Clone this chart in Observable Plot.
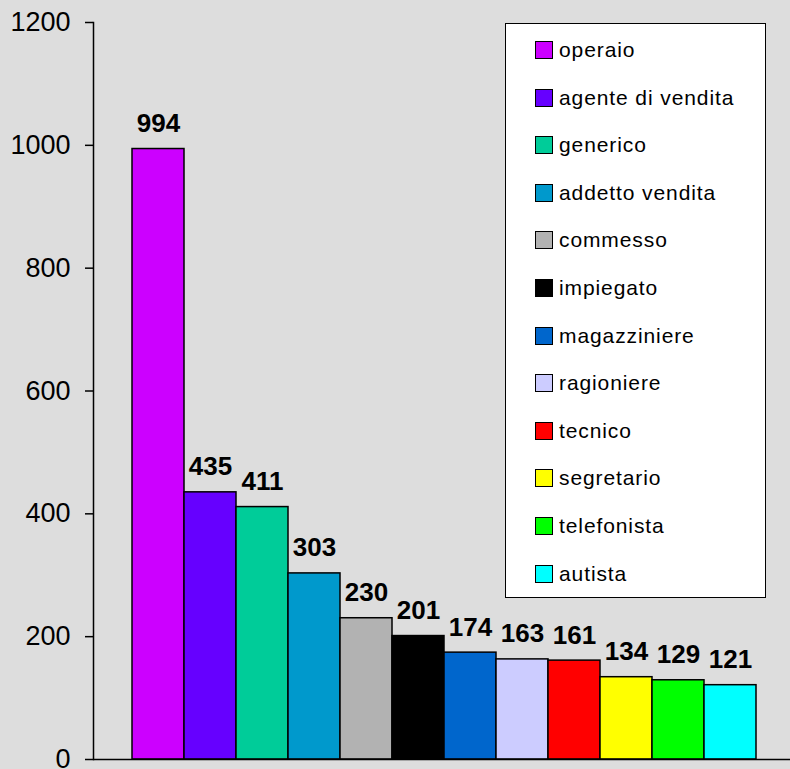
<!DOCTYPE html>
<html><head><meta charset="utf-8">
<script src="https://cdn.jsdelivr.net/npm/d3@7"></script>
<script src="https://cdn.jsdelivr.net/npm/@observablehq/plot@0.6"></script>
<style>
body{margin:0;background:#dddddd;}
#wrap{position:relative;width:790px;height:769px;background:#dddddd;overflow:hidden;}
#legend{position:absolute;left:505px;top:23px;width:261px;height:575px;background:#fff;border:1.5px solid #000;box-sizing:border-box;}
.item{position:absolute;left:29px;height:24px;display:flex;align-items:center;font:21px "Liberation Sans",Arial,sans-serif;letter-spacing:0.9px;color:#000;white-space:nowrap;}
.sw{width:18px;height:18px;border:1.5px solid #000;box-sizing:border-box;margin-right:6px;}
</style></head>
<body><div id="wrap"></div>
<script>
const categories = ["operaio","agente di vendita","generico","addetto vendita","commesso","impiegato","magazziniere","ragioniere","tecnico","segretario","telefonista","autista"];
const values = [994,435,411,303,230,201,174,163,161,134,129,121];
const colors = ["#cc00ff","#6600ff","#00cc99","#0099cc","#b2b2b2","#000000","#0066cc","#ccccff","#ff0000","#ffff00","#00ff00","#00ffff"];
const yTicks = [0,200,400,600,800,1000,1200];

const data = categories.map((c,i)=>({job:c, n:values[i], color:colors[i]}));
const font = "'Liberation Sans', Arial, sans-serif";

const chart = Plot.plot({
  width:790, height:769, marginTop:22, marginBottom:10, marginLeft:93, marginRight:0,
  style:{background:"#dddddd", fontFamily:font, overflow:"visible"},
  x:{domain:categories, padding:0, insetLeft:38, insetRight:33, axis:null},
  y:{domain:[0,1200], axis:null},
  color:{type:"identity"},
  marks:[
    Plot.barY(data,{x:"job", y:"n", fill:"color", stroke:"#000", strokeWidth:1.5}),
    Plot.text(data,{x:"job", y:"n", text:d=>String(d.n), lineAnchor:"bottom", dy:-17, fontSize:26, fontWeight:"bold", fill:"#000", letterSpacing:"1px"}),
    Plot.ruleY([0],{stroke:"#000", strokeWidth:1.5}),
    Plot.frame({anchor:"left", stroke:"#000", strokeWidth:1.5}),
    Plot.axisY({ticks:yTicks, label:null, tickSize:8, tickPadding:15, fontSize:27, tickFormat:d=>String(d), stroke:"#000", strokeWidth:1.5, fill:"#000"})
  ]
});
const wrap = document.getElementById("wrap");
wrap.appendChild(chart);

const legend = document.createElement("div");
legend.id = "legend";
categories.forEach((c,i)=>{
  const item = document.createElement("div");
  item.className = "item";
  item.style.top = (26 + i*47.6 - 12) + "px";
  const sw = document.createElement("div");
  sw.className = "sw";
  sw.style.background = colors[i];
  const t = document.createElement("span");
  t.textContent = c;
  item.appendChild(sw); item.appendChild(t);
  legend.appendChild(item);
});
wrap.appendChild(legend);
</script>
</body></html>
